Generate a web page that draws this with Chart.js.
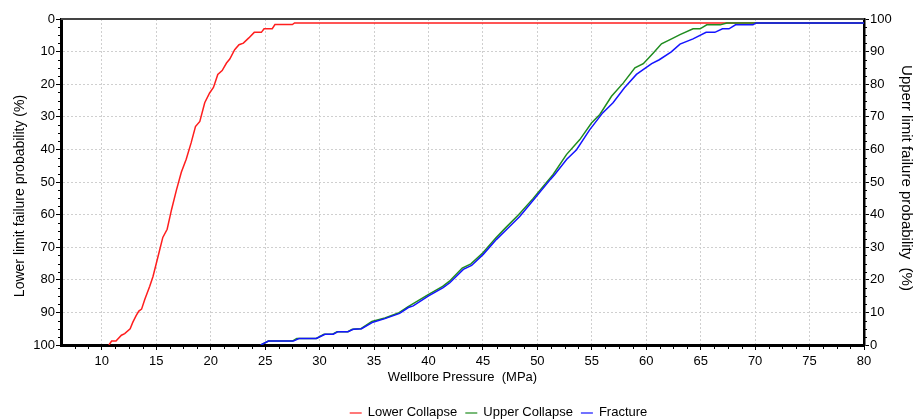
<!DOCTYPE html>
<html><head><meta charset="utf-8">
<script src="https://cdn.jsdelivr.net/npm/chart.js@4.4.0/dist/chart.umd.min.js"></script>
<style>html,body{margin:0;padding:0;background:#fff}</style>
</head><body>
<canvas id="c" width="913" height="419"></canvas>
<script>
// ---- data ----
const xTicks = [10,15,20,25,30,35,40,45,50,55,60,65,70,75,80];
const leftTicks = [0,10,20,30,40,50,60,70,80,90,100];
const rightTicks = [0,10,20,30,40,50,60,70,80,90,100];
const seriesNames = ['Lower Collapse','Upper Collapse','Fracture'];
const xTitle = 'Wellbore Pressure  (MPa)';
const leftTitle = 'Lower limit failure probability (%)';
const rightTitle = 'Upperr limit failure probability  (%)';

const lowerCollapseP = [10.65,10.9,11.3,11.8,12.1,12.6,12.85,13.15,13.4,13.65,13.95,14.4,14.7,15.0,15.3,15.6,16.0,16.4,16.85,17.3,17.75,18.2,18.6,19.0,19.45,19.9,20.25,20.65,21.05,21.45,21.75,22.2,22.6,23.0,23.5,24.0,24.65,24.9,25.65,25.9,27.5,27.7,80];
const lowerCollapseV = [100,98.8,98.8,97,96.5,95,93,91,89.6,89,86,82,79,75,71,67,64.5,58.5,52.5,47,43,38,33,31.4,25.7,22.7,21,17,15.8,13.5,12.3,9.4,7.9,7.4,5.8,4.1,4.1,3,3,1.7,1.7,1.2,1.2];

const upperCollapseP = [24.6,25.3,27.5,27.9,29.7,30.4,31.2,31.6,32.6,33.0,33.8,34.8,36.0,37.3,38.1,39.9,41.3,41.9,43.1,43.9,45.0,46.2,47.1,48.3,49.6,51.45,52.67,53.9,54.97,55.74,56.81,57.9,58.96,59.73,60.65,61.4,62.33,63.1,64.3,64.95,65.56,66.8,67.4,80];
const upperCollapseV = [0,1.2,1.2,2.0,2.0,3.3,3.3,4.1,4.1,4.8,5.0,7.2,8.3,9.9,11.7,15.3,18.0,19.5,23.6,24.9,28.3,32.9,36.0,40.0,44.9,52.3,58.4,63,68.1,70.7,76.3,80.4,85,86.3,89.6,92.4,93.9,95.2,97,97,98.2,98.2,98.8,98.8];

const fractureP = [24.6,25.3,27.6,28.1,29.7,30.5,31.25,31.7,32.6,33.1,33.85,34.9,36.0,37.35,38.15,38.6,39.97,41.35,41.96,43.2,43.96,45.03,46.25,47.2,48.4,49.6,51.2,51.6,52.7,53.6,54.8,56.0,56.95,58.0,59.1,60.5,61.2,62.3,63.1,64.3,65.5,66.3,67.0,67.6,68.2,69.8,70.1,80];
const fractureV = [0,1.2,1.2,2.0,2.0,3.3,3.3,4.1,4.1,4.8,5.0,7.0,8.1,9.7,11.5,12,15,17.6,19.1,23.2,24.4,27.8,32.4,35.5,39.5,44.3,50.8,52.3,57,59.9,66,71.2,74.3,78.9,83,86.3,87.5,89.9,92.3,93.9,95.9,95.9,97,97,98.2,98.2,98.8,98.8];

// ---- chart ----
const FONT = '"Liberation Sans", Arial, Helvetica, sans-serif';
Chart.defaults.font.family = FONT;
Chart.defaults.font.size = 13;
Chart.defaults.color = '#000';

const toXY = (px, vs) => px.map((p, i) => ({x: p, y: vs[i]}));
const GRID = '#cfcfcf';

const minorTicks = {
  id: 'minorTicks',
  afterDraw(chart) {
    const {ctx, chartArea: a, scales} = chart;
    const xStep = 1.25, yStep = 2.5;
    ctx.save();
    ctx.strokeStyle = '#000';
    ctx.lineWidth = 1;
    ctx.beginPath();
    for (let v = scales.x.min + xStep; v < scales.x.max; v += xStep) {
      if (Math.abs(v % 5) < 1e-6) continue;
      const x = Math.round(scales.x.getPixelForValue(v)) + 0.5;
      ctx.moveTo(x, a.bottom); ctx.lineTo(x, a.bottom + 4);
    }
    for (let v = yStep; v < 100; v += yStep) {
      if (Math.abs(v % 10) < 1e-6) continue;
      const y1 = Math.round(scales.y.getPixelForValue(v)) + 0.5;
      ctx.moveTo(a.left, y1); ctx.lineTo(a.left - 3, y1);
      const y2 = Math.round(scales.y2.getPixelForValue(v)) + 0.5;
      ctx.moveTo(a.right, y2); ctx.lineTo(a.right + 3, y2);
    }
    ctx.stroke();
    // top frame
    ctx.beginPath();
    ctx.strokeStyle = '#444';
    ctx.lineWidth = 2;
    ctx.moveTo(a.left, a.top); ctx.lineTo(a.right, a.top);
    ctx.stroke();
    ctx.restore();
  }
};

const axisTitles = {
  id: 'axisTitles',
  afterDraw(chart) {
    const {ctx} = chart;
    ctx.save();
    ctx.fillStyle = '#000';
    ctx.textAlign = 'center';
    ctx.textBaseline = 'middle';
    // left title (reads bottom to top)
    ctx.save();
    ctx.font = '14px ' + FONT;
    ctx.translate(20, 196);
    ctx.rotate(-Math.PI / 2);
    ctx.fillText(leftTitle, 0, 0);
    ctx.restore();
    // right title (reads top to bottom)
    ctx.save();
    ctx.font = '15px ' + FONT;
    ctx.translate(906, 178);
    ctx.rotate(Math.PI / 2);
    ctx.fillText(rightTitle, 0, 0);
    ctx.restore();
    ctx.restore();
  }
};

const customLegend = {
  id: 'customLegend',
  afterDraw(chart) {
    const {ctx} = chart;
    const lineW = 12, gapText = 6, gapItem = 8, cy = 412.5, cx = 498.5;
    ctx.save();
    ctx.font = '13px ' + FONT;
    const ds = chart.data.datasets;
    let total = 0;
    ds.forEach((d, i) => {
      total += lineW + gapText + ctx.measureText(d.label).width + (i < ds.length - 1 ? gapItem : 0);
    });
    let x = cx - total / 2;
    ctx.textBaseline = 'middle';
    ctx.textAlign = 'left';
    ds.forEach((d) => {
      ctx.strokeStyle = d.borderColor;
      ctx.lineWidth = 1.2;
      ctx.beginPath();
      ctx.moveTo(x, cy + 0.5); ctx.lineTo(x + lineW, cy + 0.5);
      ctx.stroke();
      x += lineW + gapText;
      ctx.fillStyle = '#000';
      ctx.fillText(d.label, x, cy);
      x += ctx.measureText(d.label).width + gapItem;
    });
    ctx.restore();
  }
};

new Chart(document.getElementById('c'), {
  type: 'line',
  data: {
    datasets: [
      {label: seriesNames[0], data: toXY(lowerCollapseP, lowerCollapseV), yAxisID: 'y',
       borderColor: '#ff1e1e', backgroundColor: '#ff1e1e', borderWidth: 1.5, pointRadius: 0, tension: 0, order: 2},
      {label: seriesNames[1], data: toXY(upperCollapseP, upperCollapseV), yAxisID: 'y2',
       borderColor: '#1f8c1f', backgroundColor: '#1f8c1f', borderWidth: 1.5, pointRadius: 0, tension: 0, order: 1},
      {label: seriesNames[2], data: toXY(fractureP, fractureV), yAxisID: 'y2',
       borderColor: '#1414ff', backgroundColor: '#1414ff', borderWidth: 1.5, pointRadius: 0, tension: 0, order: 0}
    ]
  },
  options: {
    responsive: false,
    animation: false,
    devicePixelRatio: 1,
    layout: {padding: {top: 19, right: 0, bottom: 19, left: 0}},
    plugins: {legend: {display: false}, tooltip: {enabled: false}},
    scales: {
      x: {
        type: 'linear', position: 'bottom', min: 6.25, max: 80,
        afterBuildTicks: s => { s.ticks = xTicks.map(v => ({value: v})); },
        afterFit: s => { s.height = 55; },
        ticks: {padding: 4, maxRotation: 0, autoSkip: false, color: '#000'},
        grid: {
          color: c => (c.tick && c.tick.value >= 80) ? 'rgba(0,0,0,0)' : GRID,
          lineWidth: 1, tickLength: 5, tickColor: '#000', tickWidth: 1
        },
        border: {color: '#000', width: 3, dash: [2, 2]},
        title: {display: true, text: xTitle, color: '#000', padding: {top: 0, bottom: 15}}
      },
      y: {
        type: 'linear', position: 'left', reverse: true, min: 0, max: 100,
        afterBuildTicks: s => { s.ticks = leftTicks.map(v => ({value: v})); },
        afterFit: s => { s.width = 61; },
        ticks: {padding: 1, color: '#000'},
        grid: {
          color: c => (c.tick && (c.tick.value === 0 || c.tick.value === 100)) ? 'rgba(0,0,0,0)' : GRID,
          lineWidth: 1, tickLength: 5, tickColor: '#000', tickWidth: 1
        },
        border: {color: '#000', width: 3, dash: [2, 2]},
        title: {display: false}
      },
      y2: {
        type: 'linear', position: 'right', min: 0, max: 100,
        afterBuildTicks: s => { s.ticks = rightTicks.map(v => ({value: v})); },
        afterFit: s => { s.width = 49; },
        ticks: {padding: 1, color: '#000'},
        grid: {drawOnChartArea: false, tickLength: 5, tickColor: '#000', tickWidth: 1},
        border: {color: '#000', width: 2.5},
        title: {display: false}
      }
    }
  },
  plugins: [minorTicks, axisTitles, customLegend]
});
</script>
</body></html>
